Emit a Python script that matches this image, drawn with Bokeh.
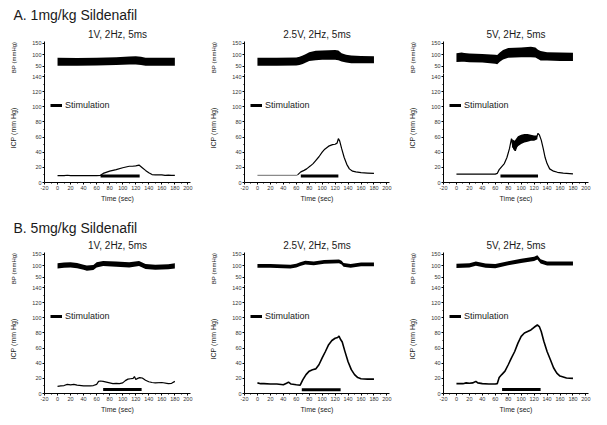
from bokeh.plotting import figure
from bokeh.layouts import column, row
from bokeh.models import FixedTicker, Title, Legend, LegendItem
from bokeh.embed import file_html
from bokeh.resources import INLINE

FONT = "Liberation Sans"
TXT = "#1a1a1a"

# ---------------- data ----------------
row_titles = ["A. 1mg/kg  Sildenafil", "B. 5mg/kg  Sildenafil"]
panel_titles = ["1V, 2Hz, 5ms", "2.5V, 2Hz, 5ms", "5V, 2Hz, 5ms"]

x_ticks = [-20, 0, 20, 40, 60, 80, 100, 120, 140, 160, 180, 200]
x_minor = [-10, 10, 30, 50, 70, 90, 110, 130, 150, 170, 190]
icp_ticks = [0, 20, 40, 60, 80, 100, 120, 140]
icp_minor = [10, 30, 50, 70, 90, 110, 130]
bp_ticks = [50, 100, 150]

# --- A: 1 mg/kg ---
a1_bp_t = [0, 30, 60, 90, 110, 120, 128, 135, 150, 180]
a1_bp_hi = [87, 86, 87, 90, 93, 94, 92, 87, 87, 87]
a1_bp_lo = [53, 53, 54, 56, 58, 58, 56, 53, 53, 53]
a1_icp_t = [0, 10, 15, 20, 40, 60, 66, 70, 80, 90, 100, 110, 115, 120, 125, 130, 135, 140, 145, 150, 160, 165, 170, 175, 180]
a1_icp = [9, 9, 9.6, 9, 9, 9, 9.5, 12, 15, 17, 19.5, 21.5, 21.5, 22, 23, 19.5, 16, 13, 10.5, 10, 10, 9.3, 9.8, 9.3, 9.5]
a1_stim = [66, 126, 8.5]

a2_bp_t = [0, 30, 60, 65, 70, 75, 80, 90, 100, 110, 120, 125, 130, 137, 145, 160, 180]
a2_bp_hi = [87, 87, 88, 92, 97, 104, 111, 117, 119, 120, 121, 118, 107, 100, 97, 95, 94]
a2_bp_lo = [53, 53, 54, 56, 61, 67, 73, 77, 79, 79, 79, 77, 71, 67, 64, 64, 64]
a2_icp_t = [0, 20, 40, 60, 62, 67, 72, 76, 82, 86, 90, 95, 100, 104, 110, 116, 120, 123, 125, 127, 130, 134, 138, 142, 147, 152, 160, 170, 180]
a2_icp = [9.3, 9.3, 9.3, 9.3, 10, 14, 16, 18, 22, 25, 29, 34, 40, 44, 48, 50, 50.5, 52, 58, 55, 45, 33, 24, 18, 15, 14, 13, 12.5, 12]
a2_stim = [67, 125, 8.5]

a3_bp_t = [0, 8, 12, 20, 40, 60, 63, 67, 72, 80, 100, 115, 122, 126, 130, 140, 160, 180]
a3_bp_hi = [107, 110, 108, 106, 103, 100, 99, 110, 121, 129, 131, 134, 131, 122, 116, 111, 110, 109]
a3_bp_lo = [69, 70, 70, 68, 67, 62, 60, 70, 80, 87, 90, 90, 88, 82, 76, 76, 74, 73]
a3_icp_t = [0, 20, 40, 60, 63, 66, 70, 74, 78, 82, 85, 87, 89, 91, 94, 98, 104, 110, 116, 122, 124, 126, 128, 131, 134, 137, 140, 144, 150, 156, 165, 180]
a3_icp = [11, 11, 11, 11, 12, 17, 21, 25, 33, 45, 58, 48, 44, 42, 50, 54, 57, 59, 60, 58, 60, 65, 63, 56, 45, 33, 25, 18, 15, 13.5, 12.5, 11.5]
a3_noise_t = [86, 90, 95, 100, 105, 110, 115, 120, 125]
a3_noise_lo = [47, 42, 48, 51, 53, 54, 55, 55, 57]
a3_noise_hi = [57, 55, 61, 63, 64, 64, 63, 62, 62]
a3_stim = [68, 126, 8.5]

# --- B: 5 mg/kg ---
b1_bp_t = [0, 10, 20, 30, 40, 45, 55, 60, 70, 90, 110, 125, 135, 150, 170, 180]
b1_bp_hi = [111, 114, 115, 112, 105, 101, 104, 115, 121, 118, 115, 121, 108, 105, 107, 111]
b1_bp_lo = [89, 92, 93, 90, 83, 79, 82, 93, 99, 96, 93, 99, 86, 83, 85, 89]
b1_icp_t = [0, 5, 10, 15, 20, 25, 30, 40, 50, 55, 60, 63, 66, 70, 75, 80, 85, 90, 95, 100, 104, 108, 112, 116, 118, 120, 123, 126, 130, 135, 140, 145, 150, 160, 170, 175, 180]
b1_icp = [9.5, 10, 10.5, 12, 11.5, 12, 11, 10, 10, 10.5, 12, 16, 16.5, 16, 15, 14, 13, 13.5, 13, 14, 17, 19, 19.5, 20, 22.5, 18.5, 20, 21, 20.5, 17.5, 15.5, 14.5, 14, 14.5, 13, 13.5, 16]
b1_stim = [70, 129, 5.3]

b2_bp_t = [0, 20, 40, 51, 60, 66, 74, 87, 103, 115, 126, 130, 133, 144, 160, 180]
b2_bp_hi = [108, 108, 106, 105, 109, 115, 122, 118, 125, 126, 127, 122, 112, 108, 114, 114]
b2_bp_lo = [92, 92, 90, 89, 93, 99, 106, 102, 109, 110, 111, 106, 96, 92, 98, 98]
b2_icp_t = [0, 5, 10, 20, 30, 40, 45, 48, 52, 60, 66, 70, 75, 80, 85, 90, 95, 100, 105, 110, 115, 120, 124, 126, 128, 131, 135, 140, 145, 150, 155, 160, 170, 180]
b2_icp = [14, 13, 13, 12.5, 12.5, 11.5, 13.5, 15, 12.5, 11.5, 11, 18, 25, 29.5, 31.5, 32.5, 38, 47, 55.5, 64.5, 70, 73, 74, 76, 72, 68, 56, 42, 31.5, 25, 21, 19.5, 19, 19]
b2_stim = [68.5, 128.5, 5]

b3_bp_t = [0, 20, 30, 45, 60, 80, 100, 120, 125, 130, 140, 160, 180]
b3_bp_hi = [109, 111, 118, 110, 108, 120, 130, 139, 145, 128, 119, 119, 119]
b3_bp_lo = [91, 93, 100, 92, 90, 102, 112, 121, 127, 110, 101, 101, 101]
b3_icp_t = [0, 10, 15, 20, 25, 30, 33, 40, 50, 60, 63, 66, 70, 75, 80, 85, 90, 95, 100, 105, 110, 115, 120, 125, 128, 131, 135, 140, 145, 150, 155, 160, 170, 180]
b3_icp = [13, 13, 14, 13.5, 14, 16, 14, 13, 12.5, 12.5, 13, 21, 25, 29.5, 38, 47, 55.5, 66.5, 75.5, 80, 82, 84, 87.5, 90.5, 88.5, 82, 69, 55.5, 45, 34, 27, 23, 20.5, 20]
b3_stim = [70.5, 130, 5.3]

a2_grey_end = 62  # baseline drawn in grey up to this time

# ---------------- layout constants ----------------
COL_W = [207, 199, 199]
COL_L = [44, 36, 36]
COL_R = [17, 17, 17]
ROW_TOP = [41, 46]
ROW_BOTTOM = [24, 24]
SUB_STANDOFF = 3
BIG_STANDOFF = [5, 1]
BP_FRAME_H = 32
ICP_FRAME_H = 109
XR = (-20, 204)


def style_axis(ax, label_size):
    ax.axis_line_color = "black"
    ax.axis_line_width = 1
    ax.major_tick_out = 2
    ax.major_tick_in = 0
    ax.minor_tick_out = 1
    ax.minor_tick_in = 0
    ax.major_tick_line_color = "black"
    ax.minor_tick_line_color = "black"
    ax.major_label_text_font = FONT
    ax.major_label_text_font_size = "5.5px"
    ax.major_label_text_color = "#333333"
    ax.major_label_standoff = 1
    ax.axis_label_text_font = FONT
    ax.axis_label_text_font_style = "normal"
    ax.axis_label_text_font_size = label_size
    ax.axis_label_text_color = TXT


def base_fig(w, h, left, r, top, bottom, y_range, x_axis):
    p = figure(width=w, height=h, x_range=XR, y_range=y_range,
               output_backend="svg", toolbar_location=None,
               min_border_left=left, min_border_right=r,
               min_border_top=top, min_border_bottom=bottom,
               x_axis_location="below" if x_axis else None)
    p.xgrid.visible = False
    p.ygrid.visible = False
    p.outline_line_color = None
    p.background_fill_color = "white"
    p.border_fill_color = "white"
    return p


def make_panel(ri, ci, bp_t, bp_lo, bp_hi, icp_t, icp_v, stim,
               noise=None, grey_end=None):
    w, left, r = COL_W[ci], COL_L[ci], COL_R[ci]
    # BP strip
    bp = base_fig(w, ROW_TOP[ri] + BP_FRAME_H, left, r, ROW_TOP[ri], 0, (20, 157), False)
    bp.varea(x=bp_t, y1=bp_lo, y2=bp_hi, fill_color="black")
    bp.yaxis.ticker = FixedTicker(ticks=bp_ticks, minor_ticks=[])
    bp.yaxis.axis_label = "BP (mmHg)"
    bp.yaxis.axis_label_standoff = 12
    style_axis(bp.yaxis[0], "6px")
    bp.add_layout(Title(text=panel_titles[ci], align="center", text_font=FONT,
                        text_font_size="10px", text_font_style="normal",
                        text_color=TXT, standoff=SUB_STANDOFF), "above")
    if ci == 0:
        bp.add_layout(Title(text=row_titles[ri], align="left", offset=-31,
                            text_font=FONT, text_font_size="14px",
                            text_font_style="normal", text_color=TXT,
                            standoff=BIG_STANDOFF[ri]), "above")

    # ICP panel
    icp = base_fig(w, ICP_FRAME_H + ROW_BOTTOM[ri], left, r, 0, ROW_BOTTOM[ri], (0, 144), True)
    if noise is not None:
        icp.varea(x=noise[0], y1=noise[1], y2=noise[2], fill_color="black")
    if grey_end is not None:
        k = icp_t.index(grey_end)
        icp.line(icp_t[:k + 1], icp_v[:k + 1], line_color="#8a8a8a", line_width=1.2)
        icp.line(icp_t[k:], icp_v[k:], line_color="black", line_width=1.2)
    else:
        icp.line(icp_t, icp_v, line_color="black",
                 line_width=1.6 if ri == 1 and ci > 0 else 1.2)
    st = icp.line([stim[0], stim[1]], [stim[2], stim[2]], line_color="black", line_width=3)
    icp.xaxis.ticker = FixedTicker(ticks=x_ticks, minor_ticks=x_minor)
    icp.yaxis.ticker = FixedTicker(ticks=icp_ticks, minor_ticks=icp_minor)
    icp.xaxis.axis_label = "Time (sec)"
    icp.xaxis.axis_label_standoff = 2
    icp.xaxis.major_label_overrides = {-20: "-20"}
    icp.yaxis.axis_label = "ICP (mm Hg)"
    icp.yaxis.axis_label_standoff = 12
    style_axis(icp.xaxis[0], "7px")
    style_axis(icp.yaxis[0], "7px")
    leg = Legend(items=[LegendItem(label="Stimulation", renderers=[st])],
                 location=(6, 72), padding=0, margin=0, spacing=0,
                 glyph_width=12, glyph_height=10, label_height=10,
                 label_standoff=3, label_text_font=FONT,
                 label_text_font_size="9px", label_text_color=TXT,
                 border_line_alpha=0, background_fill_alpha=0)
    icp.add_layout(leg)
    return column(bp, icp, spacing=0)


panels_a = [
    make_panel(0, 0, a1_bp_t, a1_bp_lo, a1_bp_hi, a1_icp_t, a1_icp, a1_stim),
    make_panel(0, 1, a2_bp_t, a2_bp_lo, a2_bp_hi, a2_icp_t, a2_icp, a2_stim, grey_end=a2_grey_end),
    make_panel(0, 2, a3_bp_t, a3_bp_lo, a3_bp_hi, a3_icp_t, a3_icp, a3_stim,
               noise=(a3_noise_t, a3_noise_lo, a3_noise_hi)),
]
panels_b = [
    make_panel(1, 0, b1_bp_t, b1_bp_lo, b1_bp_hi, b1_icp_t, b1_icp, b1_stim),
    make_panel(1, 1, b2_bp_t, b2_bp_lo, b2_bp_hi, b2_icp_t, b2_icp, b2_stim),
    make_panel(1, 2, b3_bp_t, b3_bp_lo, b3_bp_hi, b3_icp_t, b3_icp, b3_stim),
]

layout = column(row(*panels_a, spacing=0), row(*panels_b, spacing=0), spacing=0)

open("out.html", "w").write(file_html(layout, INLINE))
